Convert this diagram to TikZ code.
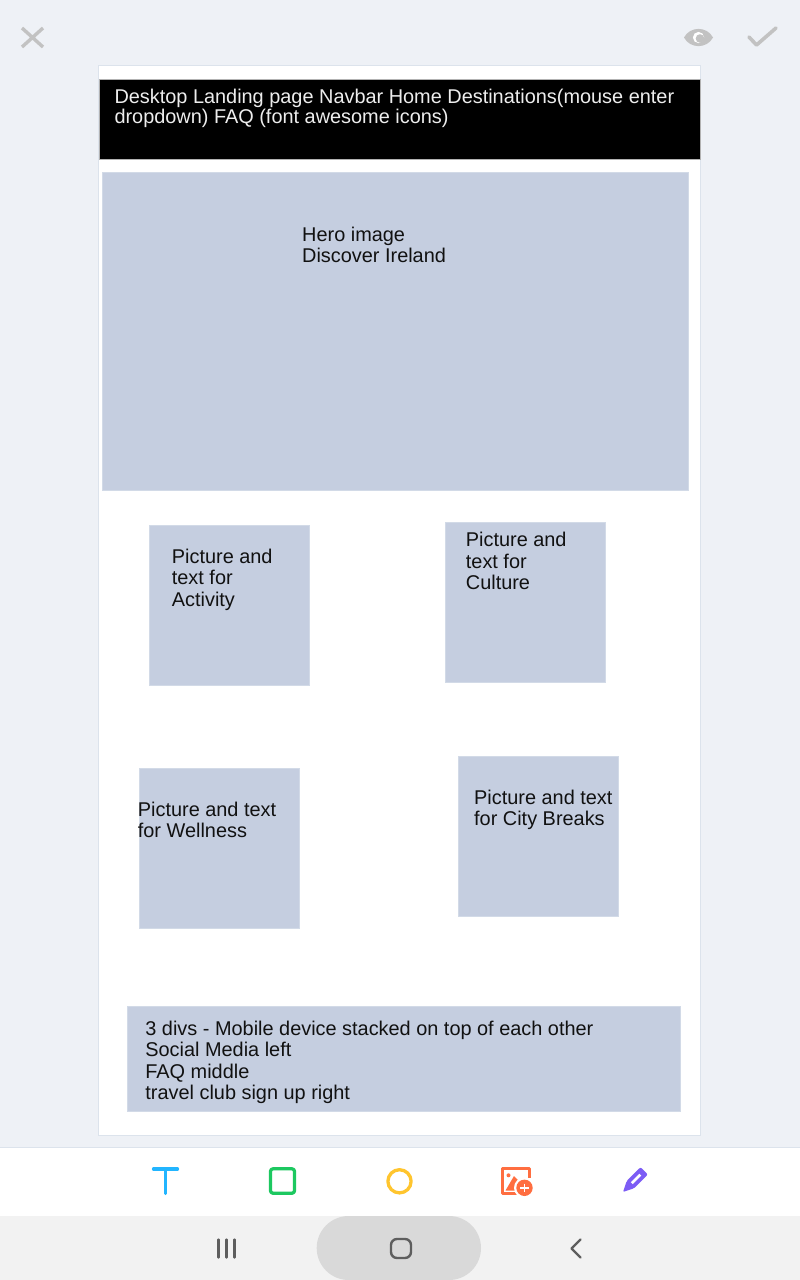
\documentclass[tikz,border=0pt]{standalone}
\usepackage{fontspec}
\setmainfont{Liberation Sans}
\definecolor{bgc}{HTML}{EEF1F6}
\definecolor{canvasline}{HTML}{DCE3EC}
\definecolor{boxfill}{HTML}{C5CEE0}
\definecolor{boxline}{HTML}{D2DAE7}
\definecolor{topicon}{HTML}{C2C2C2}
\definecolor{navbg}{HTML}{F2F2F2}
\definecolor{pill}{HTML}{D9D9D9}
\definecolor{navicon}{HTML}{5E5E5E}
\definecolor{tblue}{HTML}{22B5FF}
\definecolor{tgreen}{HTML}{1DC860}
\definecolor{tyellow}{HTML}{FFC52E}
\definecolor{torange}{HTML}{FF6E40}
\definecolor{tpurple}{HTML}{7C5CF5}
\definecolor{txt}{HTML}{111111}
\begin{document}
\begin{tikzpicture}[x=1pt,y=-1pt,
  wbox/.style={draw=boxline,fill=boxfill,line width=0.8pt,rectangle,inner sep=0pt,anchor=north west},
  btext/.style={anchor=base west,inner sep=0pt,align=left,text=txt,font=\fontsize{19.9}{21.6}\selectfont},
  navtext/.style={anchor=base west,inner sep=0pt,align=left,text=white!93!black,font=\fontsize{19.9}{20}\selectfont},
  ticon/.style={line width=3.3pt,line cap=round,line join=round},
  nicon/.style={draw=navicon,line width=2.4pt,line cap=round,line join=round}]
\useasboundingbox (0,0) rectangle (800,1280);
\fill[bgc] (0,0) rectangle (800,1280);
% top icons
\draw[topicon,line width=3.4pt] (22,28) -- (43,47) (43,28) -- (22,47);
\fill[topicon] (684,37.5) .. controls (690,26) and (707,26) .. (713,37.5) .. controls (707,49) and (690,49) .. (684,37.5) -- cycle;
\fill[white] (698.5,37.5) circle (5.6);
\fill[topicon] (700,38.5) circle (4.3);
\draw[topicon,line width=3.6pt,line cap=round,line join=round] (749,37) -- (756.5,45) -- (776,28);
% canvas
\node[draw=canvasline,fill=white,line width=1pt,rectangle,inner sep=0pt,anchor=north west,minimum width=602pt,minimum height=1070pt] (canvas) at (97.5,64.5) {};
% navbar (base anchor = last line baseline)
\node[fill=black,draw=black!30,line width=0.6pt,rectangle,inner sep=0pt,anchor=north west,minimum width=601pt,minimum height=80pt] (navbar) at (99,79) {};
\node[navtext] (navlabel) at (114.3,123.3) {Desktop Landing page Navbar Home Destinations(mouse enter\\dropdown) FAQ (font awesome icons)};
% hero
\node[wbox,minimum width=586pt,minimum height=318pt] (hero) at (102,172) {};
\node[btext,font=\fontsize{19.9}{21}\selectfont] (herolabel) at (302,262.7) {Hero image\\Discover Ireland};
% cards
\node[wbox,minimum width=160pt,minimum height=160pt] (activity) at (148.5,525) {};
\node[btext] (activitylabel) at (171.7,606.5) {Picture and\\text for\\Activity};
\node[wbox,minimum width=160pt,minimum height=160pt] (culture) at (444.5,522.3) {};
\node[btext] (culturelabel) at (465.7,589.9) {Picture and\\text for\\Culture};
\node[wbox,minimum width=160pt,minimum height=160pt] (wellness) at (139,767.7) {};
\node[btext] (wellnesslabel) at (137.7,837.6) {Picture and text\\for Wellness};
\node[wbox,minimum width=160pt,minimum height=160pt] (city) at (458.3,755.7) {};
\node[btext] (citylabel) at (474,825.9) {Picture and text\\for City Breaks};
% footer
\node[wbox,minimum width=553pt,minimum height=105pt] (footer) at (126.5,1006) {};
\node[btext,font=\fontsize{19.9}{21.5}\selectfont] (footerlabel) at (145.2,1099.5) {3 divs - Mobile device stacked on top of each other\\Social Media left\\FAQ middle\\travel club sign up right};
% toolbar
\fill[white] (0,1147) rectangle (800,1216);
\draw[canvasline,line width=0.6pt] (0,1147) -- (800,1147);
\draw[ticon,draw=tblue] (153.5,1169) -- (177.5,1169) (165.5,1169) -- (165.5,1193.5);
\draw[ticon,draw=tgreen,rounded corners=2.5pt,line cap=butt] (270.5,1168.8) rectangle (294.5,1193.2);
\draw[ticon,draw=tyellow] (399.5,1181.3) circle (11.6);
% image icon
\draw[torange,line width=3pt,line join=round] (517,1193.3) -- (502.3,1193.3) -- (502.3,1168.8) -- (529.8,1168.8) -- (529.8,1178);
\fill[torange] (505.5,1190.5) -- (514,1176) -- (519,1181) -- (515,1190.5) -- cycle;
\fill[torange] (508.5,1175.3) circle (2);
\fill[white] (524.5,1187.8) circle (10.5);
\fill[torange] (524.5,1187.8) circle (8.2);
\draw[white,line width=1.8pt] (520.3,1187.8) -- (528.7,1187.8) (524.5,1183.6) -- (524.5,1192);
% pencil icon
\begin{scope}[shift={(634,1181)},rotate=45]
\fill[tpurple,rounded corners=2pt] (-6,-5.2) rectangle (14.5,5.2);
\fill[tpurple,rounded corners=1pt] (-5,-5.2) -- (-15.5,0) -- (-5,5.2) -- cycle;
\fill[white] (-3,-1.3) rectangle (9,1.3);
\end{scope}
% navigation bar
\fill[navbg] (0,1216) rectangle (800,1280);
\fill[pill,rounded corners=32pt] (316.7,1216) rectangle (481,1280);
\draw[nicon] (218.3,1239.5) -- (218.3,1257.5) (226.3,1239.5) -- (226.3,1257.5) (234.3,1239.5) -- (234.3,1257.5);
\draw[nicon,rounded corners=6pt] (391,1239) rectangle (411,1258);
\draw[nicon] (580.5,1239.5) -- (571.5,1248.5) -- (580.5,1257.5);
\end{tikzpicture}
\end{document}
